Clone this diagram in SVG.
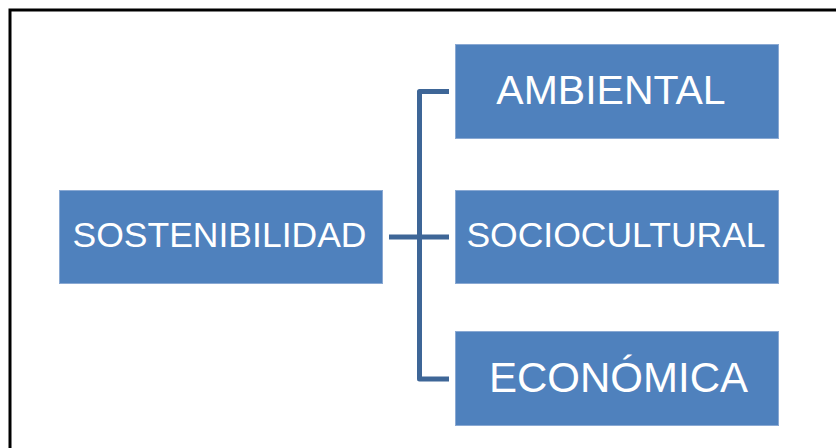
<svg xmlns="http://www.w3.org/2000/svg" width="836" height="448" viewBox="0 0 836 448">
<style>
.box{fill:#4f81bd;stroke:#8aa9d3;stroke-width:1}
.lbl{fill:#ffffff;font-family:"Liberation Sans",Arial,sans-serif;text-anchor:middle}
.conn{fill:none;stroke:#3e6697;stroke-width:5;stroke-linejoin:round}
</style>
<rect width="836" height="448" fill="#ffffff"/>
<path d="M10 448 V10 H836" fill="none" stroke="#000000" stroke-width="3"/>
<g id="connectors">
<path class="conn" d="M449 91.5 H419.5 V379 H449"/>
<path class="conn" d="M389 237 H449"/>
</g>
<g id="sostenibilidad">
<rect class="box" x="59.5" y="190.5" width="323" height="93"/>
<text class="lbl" x="219.5" y="247" font-size="35.5">SOSTENIBILIDAD</text>
</g>
<g id="ambiental">
<rect class="box" x="455.5" y="44.5" width="323" height="94"/>
<text class="lbl" x="611" y="104" font-size="41">AMBIENTAL</text>
</g>
<g id="sociocultural">
<rect class="box" x="455.5" y="190.5" width="323" height="93"/>
<text class="lbl" x="616" y="247" font-size="35.5">SOCIOCULTURAL</text>
</g>
<g id="economica">
<rect class="box" x="455.5" y="331.5" width="323" height="94"/>
<text class="lbl" x="618.5" y="392" font-size="42">ECONÓMICA</text>
</g>
</svg>
